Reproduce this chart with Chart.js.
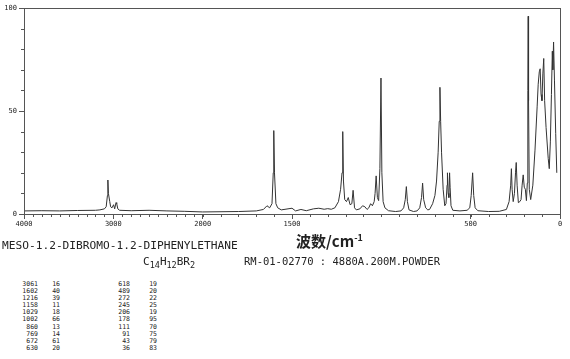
<!DOCTYPE html>
<html>
<head>
<meta charset="utf-8">
<script src="https://cdn.jsdelivr.net/npm/chart.js@4.4.1/dist/chart.umd.min.js"></script>
<style>
  body { margin: 0; background: #fff; }
  #wrap { position: relative; width: 570px; height: 359px; overflow: hidden; background: #fff; }
  #spec { position: absolute; left: 0; top: 0; }
  .t { position: absolute; white-space: pre; color: #222; font-family: "DejaVu Sans Mono", monospace; }
  #xtitle { left: 296px; top: 230px; font-family: "Noto Sans CJK SC", serif; font-weight: bold; font-size: 15px; }
  #xtitle sup { font-size: 9px; }
  #name { left: 2px; top: 239px; font-size: 11.2px; }
  #formula { left: 143px; top: 255px; font-size: 11px; }
  #formula sub { font-size: 8.5px; }
  #code { left: 244px; top: 255px; font-size: 10.5px; }
  .col { top: 281px; font-size: 6.5px; line-height: 7.1px; text-align: right; }
</style>
</head>
<body>
<div id="wrap">
  <canvas id="spec" width="570" height="232"></canvas>
  <div class="t" id="xtitle">波数/cm<sup>-1</sup></div>
  <div class="t" id="name"></div>
  <div class="t" id="formula">C<sub>14</sub>H<sub>12</sub>BR<sub>2</sub></div>
  <div class="t" id="code"></div>
  <div class="t col" id="c1" style="right: 532px;"></div>
  <div class="t col" id="c2" style="right: 510px;"></div>
  <div class="t col" id="c3" style="right: 440px;"></div>
  <div class="t col" id="c4" style="right: 413px;"></div>
</div>
<script>
// ============================
// DATA
// ============================

const compoundName = 'MESO-1.2-DIBROMO-1.2-DIPHENYLETHANE';
const codeLine = 'RM-01-02770 : 4880A.200M.POWDER';

// wavenumber (cm-1) and relative intensity of the trace
const wavenumber = [
  4000, 3800, 3600, 3400, 3200, 3150, 3100, 3080, 3072, 3066, 3061, 3055, 3040, 3030, 3015,
  2997, 2985, 2970, 2962, 2950, 2930, 2800, 2600, 2400, 2200, 2000,
  1800, 1700, 1660, 1640, 1625, 1612, 1605, 1602, 1598, 1590, 1580, 1560, 1500, 1480, 1450,
  1420, 1380, 1350, 1320, 1300, 1280, 1260, 1240, 1228, 1220, 1216, 1212, 1205, 1195, 1185,
  1175, 1165, 1158, 1150, 1140, 1120, 1105, 1092, 1080, 1070, 1060, 1050, 1040, 1035, 1029,
  1022, 1015, 1008, 1002, 997, 990, 980, 960, 920, 890, 875, 866, 860, 854, 845, 820, 800,
  785, 775, 769, 763, 752, 740, 730, 713, 700, 691, 682, 676, 672, 668, 663, 654, 645, 638,
  632, 630, 626, 622, 618, 615, 610, 600, 560, 520, 505, 497, 489, 483, 475, 460, 400, 340,
  300, 285, 276, 272, 268, 262, 255, 249, 245, 240, 233, 225, 218, 212, 206, 200, 194, 188,
  183, 180, 178, 176, 172, 164, 152, 140, 128, 122, 116, 111, 106, 101, 96, 91, 86, 78, 66,
  60, 54, 48, 43, 40, 36, 31, 24, 18
];
const intensity = [
  1.5, 1.6, 1.5, 1.7, 1.8, 2.0, 2.5, 3.5, 3.5, 9, 16.5, 10, 6, 3.5, 3,
  4.5, 2.5, 5.5, 5, 2.5, 1.8, 1.6, 1.8, 1.5, 1.3, 1.0,
  1.2, 1.5, 2.2, 4.0, 3.0, 5, 20, 40.5, 20, 5, 3, 2, 2.8, 1.5, 2.2,
  1.6, 2.5, 2.8, 2.3, 2.6, 2.3, 3, 6, 12, 20, 40, 16, 7, 6, 8,
  4.5, 5, 11.5, 3, 2, 2.5, 4, 3.5, 2.2, 3, 5, 4, 6, 10, 18.5,
  8, 6.5, 22, 66, 20, 6, 3, 1.6, 1.2, 1.5, 3, 7, 13.3, 6, 2, 1.2, 1.5,
  3, 8, 15, 7, 3, 2, 2.2, 5, 9, 16, 30, 45, 61.5, 45, 30, 12, 4, 5,
  14, 20, 10, 8, 20, 13, 4, 1.8, 1.5, 1.8, 3, 9, 20, 9, 3, 1.6, 1.2, 1.3,
  2.2, 6, 14, 22, 12, 6, 10, 20, 25, 14, 5.5, 6, 7, 14, 19, 13, 12, 6.5,
  15, 60, 96, 55, 12, 7, 14, 31, 52, 63, 69, 70.5, 58, 55, 68, 75.5, 55, 42, 27,
  22, 35, 58, 79, 70, 83.5, 65, 39, 20
];

// peak table printed under the chart
const peakWn = [3061, 1602, 1216, 1158, 1029, 1002, 860, 769, 672, 630,
                618, 489, 272, 245, 206, 178, 111, 91, 43, 36];
const peakInt = [16, 40, 39, 11, 18, 66, 13, 14, 61, 20,
                 19, 20, 22, 25, 19, 95, 70, 75, 79, 83];

// axis ticks
const xTickLabels = [4000, 3000, 2000, 1500, 500, 0];
const yTickLabels = [0, 50, 100];

// ============================
// SPECTRUM
// ============================

// the x axis is compressed 2:1 above 2000 cm-1
function pos(w) {
    return w >= 2000 ? (4000 - w) / 2 : 1000 + (2000 - w);
}

const minorX = [];
for (let w = 3900; w > 0; w -= 100) minorX.push(w);

const frame = {
    id: 'frame',
    afterDraw(chart) {
        const { ctx, chartArea: a, scales } = chart;
        ctx.save();
        ctx.strokeStyle = '#555';
        ctx.lineWidth = 1;
        ctx.strokeRect(a.left + 0.5, a.top + 0.5, a.right - a.left, a.bottom - a.top);
        ctx.beginPath();
        minorX.forEach(w => {
            const px = Math.round(scales.x.getPixelForValue(pos(w))) + 0.5;
            ctx.moveTo(px, a.bottom);
            ctx.lineTo(px, a.bottom + 3);
        });
        for (let v = 10; v < 100; v += 10) {
            if (v === 50) continue;
            const py = Math.round(scales.y.getPixelForValue(v)) + 0.5;
            ctx.moveTo(a.left - 3, py);
            ctx.lineTo(a.left, py);
        }
        ctx.stroke();
        ctx.restore();
    }
};

const specCtx = document.getElementById('spec');

new Chart(specCtx, {

    type: 'line',

    data: {
        datasets: [{
            data: wavenumber.map((w, i) => ({ x: pos(w), y: intensity[i] })),
            borderColor: '#333',
            borderWidth: 1,
            pointRadius: 0,
            tension: 0,
            fill: false
        }]
    },

    options: {
        responsive: false,
        animation: false,
        layout: { padding: { top: 8, right: 10, left: 0, bottom: 4 } },
        plugins: {
            legend: { display: false },
            tooltip: { enabled: false }
        },
        scales: {
            x: {
                type: 'linear',
                min: 0,
                max: 3000,
                afterFit: s => { s.height = 14; },
                afterBuildTicks: s => { s.ticks = xTickLabels.map(w => ({ value: pos(w) })); },
                border: { color: '#555' },
                grid: { drawOnChartArea: false, tickLength: 5, tickColor: '#555' },
                ticks: {
                    autoSkip: false,
                    maxRotation: 0,
                    padding: 1,
                    color: '#222',
                    font: { family: 'DejaVu Sans Mono', size: 7 },
                    callback: (v, i) => String(xTickLabels[i])
                }
            },
            y: {
                min: 0,
                max: 100,
                afterFit: s => { s.width = 24; },
                afterBuildTicks: s => { s.ticks = yTickLabels.map(v => ({ value: v })); },
                border: { color: '#555' },
                grid: { drawOnChartArea: false, tickLength: 5, tickColor: '#555' },
                ticks: {
                    padding: 2,
                    color: '#222',
                    font: { family: 'DejaVu Sans Mono', size: 7 }
                }
            }
        }
    },

    plugins: [frame]

});

// ============================
// TEXT BLOCK
// ============================

document.getElementById('name').textContent = compoundName;
document.getElementById('code').textContent = codeLine;

document.getElementById('c1').textContent = peakWn.slice(0, 10).join('\n');
document.getElementById('c2').textContent = peakInt.slice(0, 10).join('\n');
document.getElementById('c3').textContent = peakWn.slice(10).join('\n');
document.getElementById('c4').textContent = peakInt.slice(10).join('\n');
</script>
</body>
</html>
